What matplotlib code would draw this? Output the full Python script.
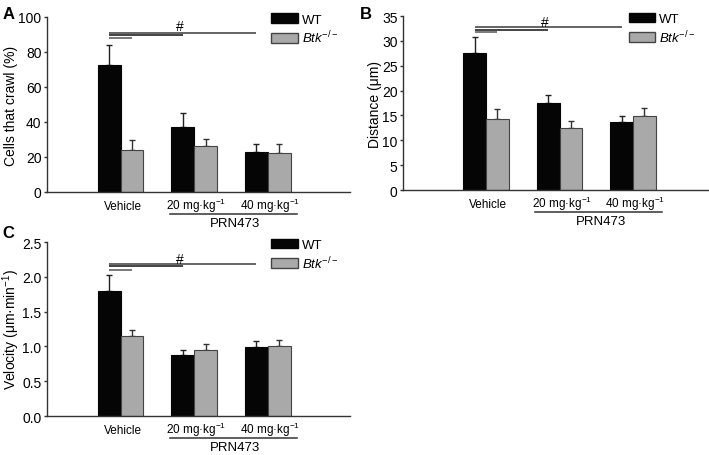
import matplotlib.pyplot as plt
import numpy as np
from matplotlib.patches import Patch
from matplotlib.transforms import blended_transform_factory

plt.rcParams.update({
    "font.family": ["Liberation Sans", "DejaVu Sans"],
    "mathtext.fontset": "custom",
    "mathtext.rm": "Liberation Sans",
    "mathtext.it": "Liberation Sans:italic",
    "mathtext.bf": "Liberation Sans:bold",
    "axes.spines.top": False,
    "axes.spines.right": False,
    "axes.edgecolor": "#333333",
    "axes.linewidth": 1.0,
})

groups = ["Vehicle", "20 mg·kg$^{−1}$", "40 mg·kg$^{−1}$"]

crawl_wt = [72.5, 37.0, 23.0]
crawl_wt_err = [11.2, 8.0, 4.2]
crawl_btk = [24.0, 26.0, 22.0]
crawl_btk_err = [5.5, 4.2, 5.5]

dist_wt = [27.5, 17.5, 13.6]
dist_wt_err = [3.3, 1.6, 1.2]
dist_btk = [14.3, 12.5, 14.9]
dist_btk_err = [2.0, 1.3, 1.5]

vel_wt = [1.80, 0.88, 0.99]
vel_wt_err = [0.22, 0.07, 0.09]
vel_btk = [1.15, 0.95, 1.01]
vel_btk_err = [0.09, 0.09, 0.08]

BLACK = "#050505"
GRAY = "#a9a9a9"
W = 0.31

fig = plt.figure(figsize=(7.09, 4.56), dpi=100)
axA = fig.add_axes([0.0663, 0.5768, 0.4277, 0.3838])
axB = fig.add_axes([0.5684, 0.5811, 0.4302, 0.3816])
axC = fig.add_axes([0.0663, 0.0855, 0.4277, 0.3816])


def panel(ax, wt, wt_err, btk, btk_err, ymax, step, ylabel, ylab_x, sig, hash_y, fmt, xlim):
    x = np.arange(len(groups))
    ax.bar(x - W / 2, wt, W, color=BLACK, edgecolor=BLACK, lw=0.8, zorder=2)
    ax.bar(x + W / 2, btk, W, color=GRAY, edgecolor="#444444", lw=0.8, zorder=2)
    ax.errorbar(x - W / 2, wt, yerr=[np.zeros(3), wt_err], fmt="none",
                ecolor="#222222", elinewidth=1.0, capsize=2.5, capthick=1.0, zorder=1)
    ax.errorbar(x + W / 2, btk, yerr=[np.zeros(3), btk_err], fmt="none",
                ecolor="#333333", elinewidth=1.0, capsize=2.5, capthick=1.0, zorder=1)
    ax.set_xlim(*xlim)
    ax.set_ylim(0, ymax)
    ax.set_yticks(np.arange(0, ymax + step / 2, step))
    ax.yaxis.set_major_formatter(plt.FormatStrFormatter(fmt))
    ax.tick_params(axis="y", direction="out", length=2.5, width=1.0, labelsize=10,
                   color="#333333", pad=1.5)
    ax.set_xticks([])
    ax.set_ylabel(ylabel, fontsize=10)
    ax.yaxis.set_label_coords(ylab_x, 0.5)

    tr = blended_transform_factory(ax.transData, ax.transAxes)
    for xi, lab in zip(x, groups):
        ax.text(xi + 0.03, -0.097, lab, transform=tr, ha="center", va="baseline",
                fontsize=8.5)

    # significance brackets from WT vehicle
    x0 = -W / 2
    ends = [2 - W / 2, 1 - W / 2, W / 2]
    cols = ["#3a3a3a", "#111111", "#555555"]
    for y, xe, c in zip(sig, ends, cols):
        ax.plot([x0, xe], [y, y], color=c, lw=1.1, clip_on=False, solid_capstyle="butt")
    ax.text(0.8, hash_y, "#", ha="center", va="center", fontsize=10)

    # PRN473 underline
    ax.plot([0.67, 2.39], [-0.126, -0.126], color="#333333", lw=1.1,
            transform=tr, clip_on=False)
    ax.text(1.56, -0.194, "PRN473", transform=tr, ha="center", va="baseline", fontsize=9.5)

    handles = [Patch(facecolor=BLACK, edgecolor=BLACK, label="WT"),
               Patch(facecolor=GRAY, edgecolor="#444444", label=r"$\mathit{Btk}^{-/-}$")]
    ax.legend(handles=handles, loc="upper left", bbox_to_anchor=(0.74, 1.02),
              frameon=False, fontsize=9.5, handlelength=2.0, handleheight=0.75,
              labelspacing=0.25, handletextpad=0.3, borderaxespad=0, borderpad=0)


panel(axA, crawl_wt, crawl_wt_err, crawl_btk, crawl_btk_err, 100, 20,
      "Cells that crawl (%)", -0.096, [91, 89.5, 88], 95, "%d", (-1.0, 3.12))
panel(axB, dist_wt, dist_wt_err, dist_btk, dist_btk_err, 35, 5,
      "Distance (μm)", -0.069, [32.8, 32.2, 31.7], 33.7, "%d", (-1.13, 3.02))
panel(axC, vel_wt, vel_wt_err, vel_btk, vel_btk_err, 2.5, 0.5,
      "Velocity (μm·min$^{−1}$)", -0.084, [2.18, 2.15, 2.10], 2.25, "%.1f", (-1.0, 3.12))

fig.text(0.004, 0.985, "A", fontsize=12, fontweight="bold", va="top")
fig.text(0.508, 0.985, "B", fontsize=12, fontweight="bold", va="top")
fig.text(0.004, 0.505, "C", fontsize=12, fontweight="bold", va="top")

plt.savefig("out.png", dpi=100)
plt.close()
